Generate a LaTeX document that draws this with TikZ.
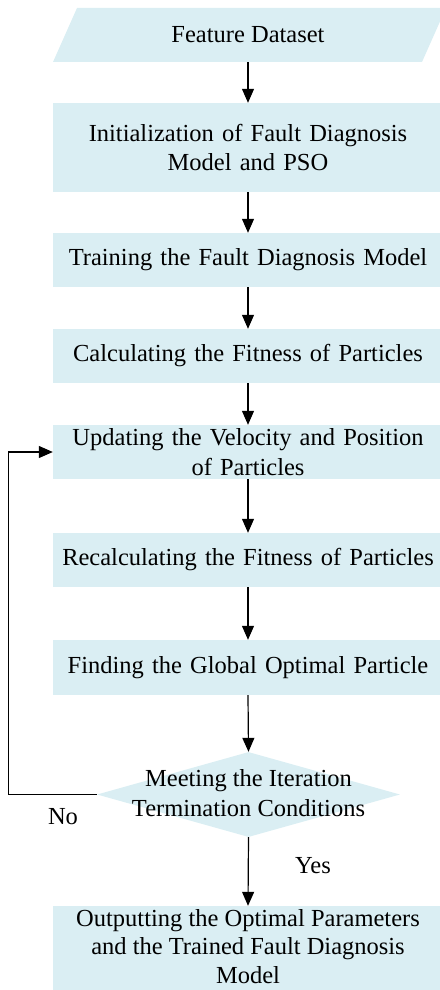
\documentclass[tikz,border=0pt]{standalone}
\usepackage{fontspec}
\setmainfont{Liberation Serif}
\usetikzlibrary{shapes.geometric,arrows.meta}
\definecolor{boxfill}{HTML}{DAEEF3}
\begin{document}
\begin{tikzpicture}[x=1pt,y=-1pt,
  every node/.style={font=\fontsize{24.5}{29.5}\selectfont},
  procbox/.style={rectangle,fill=boxfill,minimum width=390pt,inner sep=0pt,align=center,text width=380pt},
  textonly/.style={rectangle,inner sep=0pt,align=center},
  decision/.style={diamond,fill=boxfill,minimum width=303pt,minimum height=85pt,inner sep=0pt},
  arr/.style={-{Triangle[length=14pt,width=12pt]},line width=1.2pt}
]
\useasboundingbox (0,0) rectangle (439,990);
\fill[boxfill] (53,62) -- (422,62) -- (446,8) -- (77,8) -- cycle;
\node[textonly,minimum height=54pt] (fd) at (248,35) {Feature Dataset};
\node[procbox,minimum height=89pt] (b2) at (248,147.5) {Initialization of Fault Diagnosis\\Model and PSO};
\node[procbox,minimum height=54pt] (b3) at (248,260) {Training the Fault Diagnosis Model};
\node[procbox,minimum height=54pt] (b4) at (248,356) {Calculating the Fitness of Particles};
\node[procbox,minimum height=54pt] (b5) at (248,452) {Updating the Velocity and Position\\of Particles};
\node[procbox,minimum height=54pt] (b6) at (248,560) {Recalculating the Fitness of Particles};
\node[procbox,minimum height=55pt] (b7) at (248,667.5) {Finding the Global Optimal Particle};
\node[decision] (dec) at (248.5,794.5) {};
\node[textonly] (dect) at (248.5,793) {Meeting the Iteration\\Termination Conditions};
\node[procbox,minimum height=90pt,font=\fontsize{24.5}{28.5}\selectfont] (b8) at (248,951) {};
\node[textonly,font=\fontsize{24.5}{28.5}\selectfont] (b8t) at (248,946.5) {Outputting the Optimal Parameters\\and the Trained Fault Diagnosis\\Model};
\node[textonly] (no) at (63,817) {No};
\node[textonly] (yes) at (313,866) {Yes};
\draw[arr] (fd.south) -- (b2.north);
\draw[arr] (b2.south) -- (b3.north);
\draw[arr] (b3.south) -- (b4.north);
\draw[arr] (b4.south) -- (b5.north);
\draw[arr] (b5.south) -- (b6.north);
\draw[arr] (b6.south) -- (b7.north);
\draw[arr] (b7.south) -- (dec.north);
\draw[arr] (dec.south) -- (b8.north);
\draw[arr] (dec.west) -- ++(-88,0) |- (b5.west);
\end{tikzpicture}
\end{document}
